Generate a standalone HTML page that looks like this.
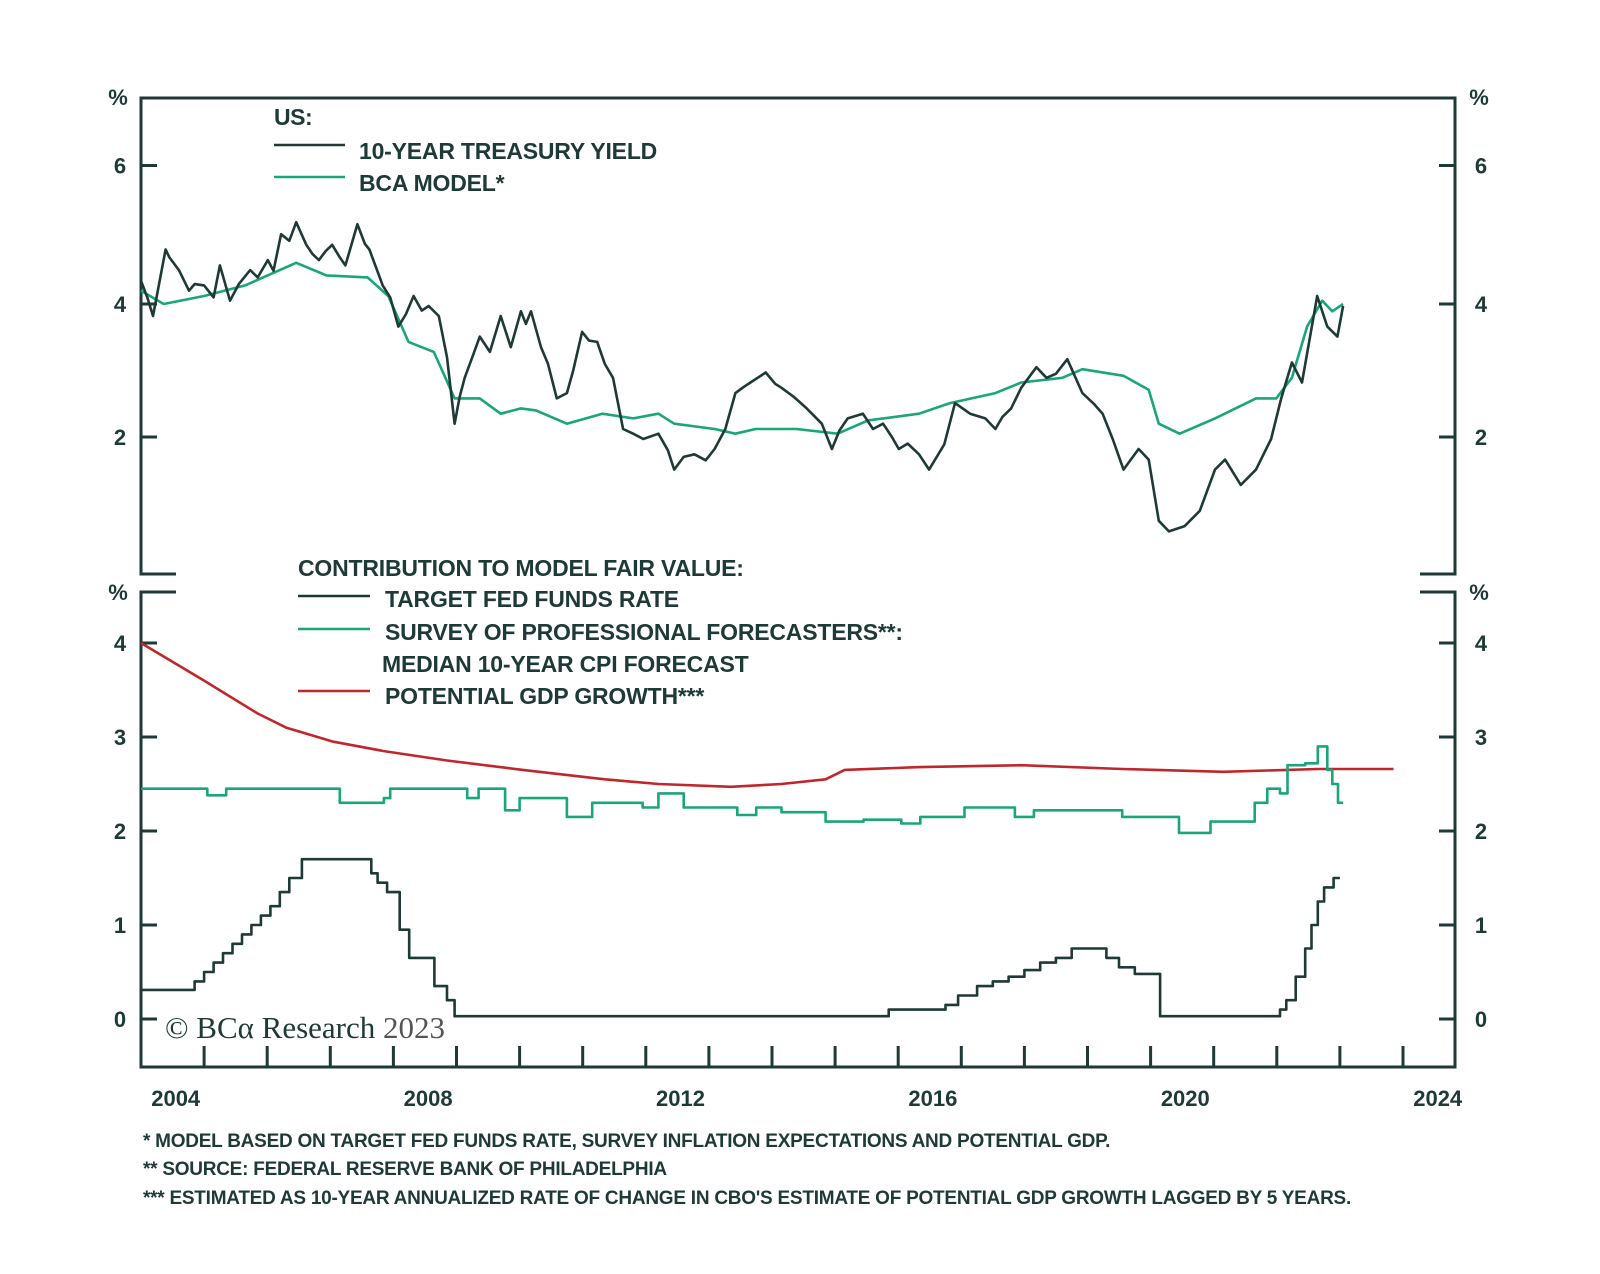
<!DOCTYPE html>
<html><head><meta charset="utf-8"><style>
body{margin:0;background:#fff;}
svg{display:block;font-family:"Liberation Sans",sans-serif;}
.t{fill:#1e3a36;font-weight:bold;}
</style></head><body>
<svg id="c" width="1600" height="1274" viewBox="0 0 1600 1274" xmlns="http://www.w3.org/2000/svg">
<g id="frame" stroke="#1e3a36" stroke-width="3" fill="none">
<polyline points="176,574 141,574 141,98 1455,98 1455,574 1420,574"/>
<polyline points="176,592 141,592 141,1067 1455,1067 1455,592 1420,592"/>
</g>
<g id="axes"></g>
<g id="series"></g>
<g>
<text class="t" x="274" y="125" font-size="23" letter-spacing="-0.5">US:</text>
<line x1="274" y1="145" x2="345" y2="145" stroke="#1e3a36" stroke-width="2.5"/>
<text class="t" x="359" y="159" font-size="23" letter-spacing="-0.2">10-YEAR TREASURY YIELD</text>
<line x1="274" y1="177" x2="345" y2="177" stroke="#1aa57a" stroke-width="2.5"/>
<text class="t" x="359" y="191" font-size="23" letter-spacing="-0.2">BCA MODEL*</text>
</g>
<g>
<text class="t" x="298" y="576" font-size="23" letter-spacing="-0.2">CONTRIBUTION TO MODEL FAIR VALUE:</text>
<line x1="298" y1="596" x2="370" y2="596" stroke="#1e3a36" stroke-width="2.5"/>
<text class="t" x="385" y="607" font-size="23" letter-spacing="-0.2">TARGET FED FUNDS RATE</text>
<line x1="298" y1="629" x2="370" y2="629" stroke="#1aa57a" stroke-width="2.5"/>
<text class="t" x="385" y="640" font-size="23" letter-spacing="-0.2">SURVEY OF PROFESSIONAL FORECASTERS**:</text>
<text class="t" x="382" y="672" font-size="23" letter-spacing="-0.2">MEDIAN 10-YEAR CPI FORECAST</text>
<line x1="298" y1="691" x2="370" y2="691" stroke="#c0272d" stroke-width="2.5"/>
<text class="t" x="385" y="704" font-size="23" letter-spacing="-0.2">POTENTIAL GDP GROWTH***</text>
</g>
<text x="165" y="1038" font-size="31" fill="#1e3a36" font-family="Liberation Serif,serif">© BCα Research <tspan fill="#555">2023</tspan></text>
<g class="t" font-size="19" letter-spacing="-0.25">
<text x="143" y="1147">*  MODEL BASED ON TARGET FED FUNDS RATE, SURVEY INFLATION EXPECTATIONS AND POTENTIAL GDP.</text>
<text x="143" y="1175">**  SOURCE: FEDERAL RESERVE BANK OF PHILADELPHIA</text>
<text x="143" y="1204">*** ESTIMATED AS 10-YEAR ANNUALIZED RATE OF CHANGE IN CBO'S ESTIMATE OF POTENTIAL GDP GROWTH LAGGED BY 5 YEARS.</text>
</g>
</svg>
<script>
const yieldYears=[2003.45,2003.55,2003.64,2003.84,2003.9,2004.05,2004.21,2004.3,2004.45,2004.6,2004.70,2004.86,2005.0,2005.18,2005.3,2005.46,2005.55,2005.67,2005.8,2005.91,2006.07,2006.17,2006.27,2006.38,2006.48,2006.6,2006.69,2006.88,2007.0,2007.07,2007.28,2007.4,2007.53,2007.65,2007.77,2007.9,2008.01,2008.17,2008.30,2008.42,2008.5,2008.58,2008.7,2008.82,2008.98,2009.15,2009.31,2009.47,2009.55,2009.63,2009.79,2009.9,2010.04,2010.20,2010.3,2010.44,2010.55,2010.68,2010.8,2010.93,2011.09,2011.25,2011.41,2011.65,2011.8,2011.90,2012.05,2012.22,2012.4,2012.54,2012.71,2012.87,2013.0,2013.11,2013.35,2013.5,2013.60,2013.8,2014.00,2014.24,2014.40,2014.52,2014.65,2014.89,2015.05,2015.21,2015.35,2015.46,2015.6,2015.78,2015.94,2016.18,2016.35,2016.59,2016.83,2016.99,2017.1,2017.24,2017.40,2017.64,2017.80,2017.95,2018.13,2018.37,2018.55,2018.69,2018.85,2019.02,2019.26,2019.42,2019.58,2019.74,2019.99,2020.23,2020.47,2020.63,2020.88,2021.12,2021.36,2021.52,2021.69,2021.85,2022.09,2022.25,2022.41,2022.50];
const yieldVals=[4.35,4.1,3.82,4.82,4.7,4.51,4.2,4.3,4.28,4.1,4.58,4.05,4.3,4.51,4.4,4.66,4.5,5.05,4.95,5.23,4.89,4.75,4.66,4.8,4.89,4.7,4.58,5.2,4.9,4.82,4.28,4.1,3.66,3.85,4.12,3.9,3.97,3.82,3.2,2.2,2.6,2.89,3.2,3.51,3.28,3.82,3.35,3.89,3.7,3.89,3.35,3.1,2.58,2.66,3.0,3.58,3.45,3.43,3.1,2.89,2.12,2.05,1.97,2.05,1.8,1.51,1.7,1.74,1.65,1.82,2.12,2.66,2.75,2.82,2.97,2.8,2.74,2.6,2.43,2.2,1.82,2.1,2.28,2.35,2.12,2.2,2.0,1.82,1.9,1.74,1.51,1.89,2.51,2.35,2.28,2.12,2.3,2.43,2.74,3.05,2.89,2.95,3.17,2.66,2.5,2.35,1.97,1.51,1.82,1.66,0.74,0.58,0.66,0.89,1.51,1.66,1.28,1.51,1.97,2.58,3.12,2.82,4.12,3.66,3.51,3.97];
const modelYears=[2003.45,2003.81,2004.45,2005.10,2005.91,2006.39,2007.04,2007.37,2007.69,2008.09,2008.42,2008.82,2009.15,2009.47,2009.71,2010.20,2010.76,2011.25,2011.65,2011.90,2012.54,2012.87,2013.19,2013.84,2014.49,2014.97,2015.78,2016.27,2016.99,2017.40,2018.05,2018.37,2019.02,2019.42,2019.58,2019.91,2020.47,2021.12,2021.44,2021.69,2021.93,2022.17,2022.33,2022.50];
const modelVals=[4.2,4.0,4.12,4.28,4.62,4.43,4.4,4.12,3.43,3.28,2.58,2.58,2.35,2.43,2.4,2.2,2.35,2.28,2.35,2.2,2.12,2.05,2.12,2.12,2.05,2.25,2.35,2.51,2.66,2.82,2.89,3.02,2.92,2.71,2.2,2.05,2.28,2.58,2.58,2.89,3.66,4.05,3.89,4.0];
const fedYears=[2003.45,2004.3,2004.45,2004.6,2004.75,2004.9,2005.05,2005.2,2005.35,2005.5,2005.65,2005.8,2006.0,2007.1,2007.2,2007.35,2007.55,2007.7,2008.1,2008.3,2008.42,2015.3,2016.2,2016.4,2016.7,2016.95,2017.2,2017.45,2017.7,2017.95,2018.2,2018.75,2018.95,2019.2,2019.6,2021.5,2021.6,2021.75,2021.9,2022.0,2022.1,2022.2,2022.35,2022.45];
const fedVals=[0.31,0.4,0.5,0.6,0.7,0.8,0.9,1.0,1.1,1.2,1.35,1.5,1.7,1.55,1.45,1.35,0.95,0.65,0.35,0.2,0.03,0.1,0.15,0.25,0.35,0.4,0.45,0.52,0.6,0.65,0.75,0.65,0.55,0.48,0.03,0.1,0.2,0.45,0.75,1.0,1.25,1.4,1.5,1.5];
const spfYears=[2003.45,2004.0,2004.5,2004.8,2006.4,2006.6,2007.3,2007.4,2008.5,2008.62,2008.8,2009.0,2009.22,2009.45,2009.7,2010.2,2010.6,2010.9,2011.4,2011.65,2012.05,2012.5,2012.9,2013.2,2013.6,2014.3,2014.9,2015.5,2015.8,2016.25,2016.5,2016.8,2017.3,2017.6,2019.0,2019.9,2020.4,2021.1,2021.3,2021.5,2021.62,2021.9,2022.1,2022.25,2022.33,2022.42,2022.5];
const spfVals=[2.45,2.45,2.38,2.45,2.45,2.3,2.35,2.45,2.45,2.35,2.45,2.45,2.22,2.35,2.35,2.15,2.3,2.3,2.25,2.4,2.25,2.25,2.17,2.25,2.2,2.1,2.12,2.08,2.15,2.15,2.25,2.25,2.15,2.22,2.15,1.98,2.1,2.3,2.45,2.4,2.7,2.72,2.9,2.65,2.5,2.3,2.3];
const gdpYears=[2003.45,2004.45,2005.3,2005.75,2006.5,2007.3,2008.3,2009.5,2010.8,2011.65,2012.8,2013.6,2014.3,2014.6,2015.8,2017.4,2019.0,2020.6,2022.1,2023.3];
const gdpVals=[4.0,3.6,3.25,3.1,2.95,2.85,2.75,2.65,2.55,2.5,2.47,2.5,2.55,2.65,2.68,2.7,2.66,2.63,2.66,2.66];
const xLabels=[2004,2008,2012,2016,2020,2024];
const topTicks=[2,4,6];
const botTicks=[0,1,2,3,4];

const NS='http://www.w3.org/2000/svg';
const xs=y=>175.7+(y-2004)*63.1;
const yt=v=>437-(v-2)*66.5;
const yb=v=>1019-v*94;
function mk(tag,attrs,parent){const e=document.createElementNS(NS,tag);for(const k in attrs)e.setAttribute(k,attrs[k]);parent.appendChild(e);return e;}
const ax=document.getElementById('axes'), se=document.getElementById('series');
const dark='#1e3a36';
topTicks.forEach(v=>{const y=v===6?yt(v)-5.5:yt(v);
 let l=mk('line',{x1:141,x2:157,y1:y,y2:y,stroke:dark,'stroke-width':3},ax);
 
 
 mk('line',{x1:1439,x2:1455,y1:y,y2:y,stroke:dark,'stroke-width':3},ax);
 let t=mk('text',{x:120,y:y+8,'text-anchor':'middle','font-size':22,class:'t'},ax);t.textContent=v;
 
 
 let t2=mk('text',{x:1481,y:y+8,'text-anchor':'middle','font-size':22,class:'t'},ax);t2.textContent=v;
 
 
});
botTicks.forEach(v=>{const y=yb(v);
 mk('line',{x1:141,x2:157,y1:y,y2:y,stroke:dark,'stroke-width':3},ax);
 mk('line',{x1:1439,x2:1455,y1:y,y2:y,stroke:dark,'stroke-width':3},ax);
 let t=mk('text',{x:120,y:y+8,'text-anchor':'middle','font-size':22,class:'t'},ax);t.textContent=v;
 
 
 let t2=mk('text',{x:1481,y:y+8,'text-anchor':'middle','font-size':22,class:'t'},ax);t2.textContent=v;
 
 
});
[[118,105],[1479,105],[118,600],[1479,600]].forEach(p=>{let t=mk('text',{x:p[0],y:p[1],'text-anchor':'middle','font-size':22,class:'t'},ax);t.textContent='%';
 
 });
for(let yr=2004.45;yr<2024;yr+=1){const x=xs(yr);mk('line',{x1:x,x2:x,y1:1046,y2:1067,stroke:dark,'stroke-width':3},ax);}
xLabels.forEach(yr=>{let t=mk('text',{x:xs(yr),y:1106,'text-anchor':'middle','font-size':22,class:'t'},ax);t.textContent=yr;
 
 });
function line(years,vals,fy,color,step,name){let d='';
 years.forEach((yr,i)=>{const x=xs(yr).toFixed(1),y=fy(vals[i]).toFixed(1);
  if(i===0)d+='M'+x+','+y;else if(step)d+='H'+x+'V'+y;else d+='L'+x+','+y;});
 const p=mk('path',{d:d,fill:'none',stroke:color,'stroke-width':2.6,'stroke-linejoin':'round'},se);
 
 }
line(modelYears,modelVals,yt,'#1aa57a',false,'bca-model-line');
line(yieldYears,yieldVals,yt,dark,false,'treasury-yield-line');
line(gdpYears,gdpVals,yb,'#c0272d',false,'potential-gdp-line');
line(spfYears,spfVals,yb,'#1aa57a',true,'spf-line');
line(fedYears,fedVals,yb,dark,true,'fed-funds-line');
</script>
</body></html>
